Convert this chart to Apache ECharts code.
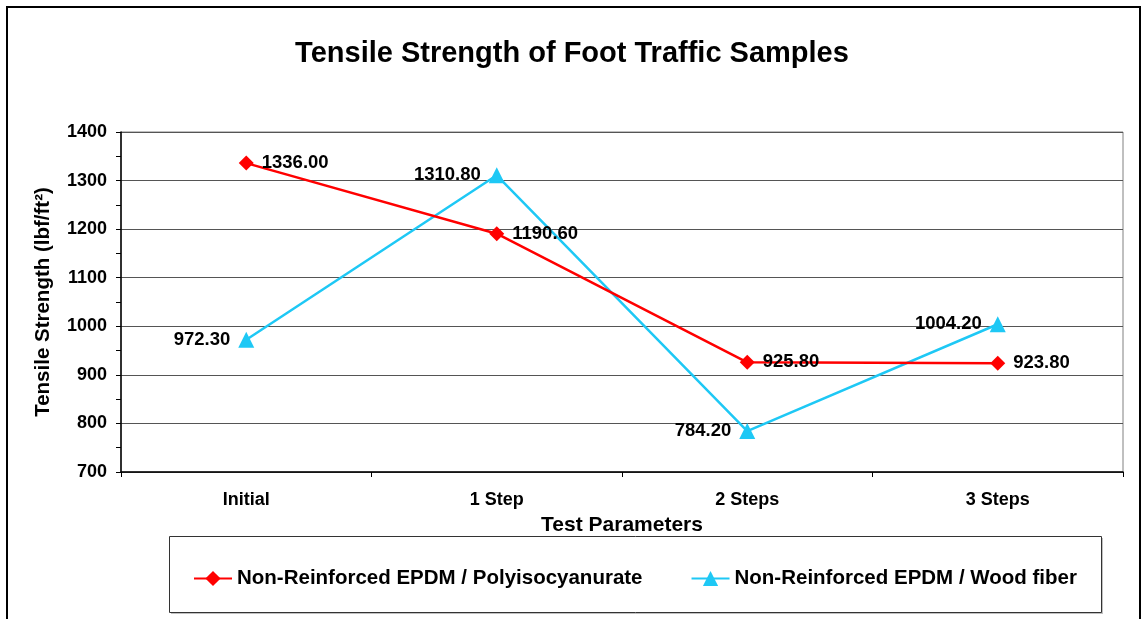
<!DOCTYPE html>
<html><head><meta charset="utf-8">
<script src="https://cdn.jsdelivr.net/npm/echarts@6/dist/echarts.min.js"></script>
<style>html,body{margin:0;padding:0;background:#fff}#c{width:1144px;height:619px}</style>
</head><body><div id="c"></div>
<script>
var categories = ['Initial', '1 Step', '2 Steps', '3 Steps'];
var polyValues = [1336.00, 1190.60, 925.80, 923.80];
var woodValues = [972.30, 1310.80, 784.20, 1004.20];
var seriesNames = ['Non-Reinforced EPDM / Polyisocyanurate', 'Non-Reinforced EPDM / Wood fiber'];
var yMin = 700, yMax = 1400, yInterval = 100;

var FONT = 'Liberation Sans, Arial, sans-serif';
var chart = echarts.init(document.getElementById('c'), null, {renderer: 'canvas'});
chart.setOption({
  animation: false,
  backgroundColor: '#fff',
  title: {
    text: 'Tensile Strength of Foot Traffic Samples',
    left: 'center', top: 34,
    textStyle: {fontFamily: FONT, fontWeight: 'bold', fontSize: 29, color: '#000'}
  },
  grid: {left: 121, right: 21, top: 132, bottom: 147, show: true, borderColor: '#808080', borderWidth: 1},
  legend: {
    left: 188, top: 563, itemGap: 48, itemWidth: 38, itemHeight: 19,
    textStyle: {fontFamily: FONT, fontWeight: 'bold', fontSize: 20.5, color: '#000'},
    data: seriesNames
  },
  graphic: [
    {type: 'rect', shape: {x: 7, y: 7, width: 1133, height: 640}, style: {fill: 'none', stroke: '#000', lineWidth: 2}, silent: true},
    {type: 'rect', shape: {x: 171, y: 538, width: 932, height: 76}, style: {fill: '#c0c0c0', stroke: 'none'}, silent: true, z: -1},
    {type: 'rect', shape: {x: 169.5, y: 536.5, width: 932, height: 76}, style: {fill: '#fff', stroke: '#333', lineWidth: 1}, silent: true, z: 0}
  ],
  xAxis: {
    type: 'category', data: categories, boundaryGap: true,
    name: 'Test Parameters', nameLocation: 'middle', nameGap: 43,
    nameTextStyle: {fontFamily: FONT, fontWeight: 'bold', fontSize: 21, color: '#000'},
    axisLine: {lineStyle: {color: '#000', width: 1.5}},
    axisTick: {show: true, length: 5, alignWithLabel: false, lineStyle: {color: '#000'}},
    axisLabel: {margin: 19, fontFamily: FONT, fontWeight: 'bold', fontSize: 18, color: '#000'},
    splitLine: {show: false}
  },
  yAxis: {
    type: 'value', min: yMin, max: yMax, interval: yInterval,
    name: 'Tensile Strength (lbf/ft²)', nameLocation: 'middle', nameGap: 67,
    nameTextStyle: {fontFamily: FONT, fontWeight: 'bold', fontSize: 20.5, color: '#000'},
    axisLine: {show: true, lineStyle: {color: '#000', width: 1.5}},
    axisTick: {show: true, length: 5, lineStyle: {color: '#000'}},
    minorTick: {show: true, splitNumber: 2, length: 5, lineStyle: {color: '#000'}},
    axisLabel: {margin: 14, fontFamily: FONT, fontWeight: 'bold', fontSize: 18, color: '#000',
      formatter: function (v) { return String(v); }},
    splitLine: {show: true, lineStyle: {color: '#555', width: 1}}
  },
  series: [
    {
      name: seriesNames[0], type: 'line', data: polyValues,
      symbol: 'diamond', symbolSize: 15,
      lineStyle: {color: '#ff0000', width: 2.5},
      itemStyle: {color: '#ff0000'},
      label: {show: true, position: 'right', distance: 8, fontFamily: FONT, fontWeight: 'bold', fontSize: 18.5, color: '#000',
        formatter: function (p) { return p.value.toFixed(2); }},
      z: 3
    },
    {
      name: seriesNames[1], type: 'line', data: woodValues,
      symbol: 'triangle', symbolSize: 16,
      lineStyle: {color: '#1ec8f5', width: 2.5},
      itemStyle: {color: '#1ec8f5'},
      label: {show: true, position: 'left', distance: 8, fontFamily: FONT, fontWeight: 'bold', fontSize: 18.5, color: '#000',
        formatter: function (p) { return p.value.toFixed(2); }},
      z: 2
    }
  ]
});
</script></body></html>
